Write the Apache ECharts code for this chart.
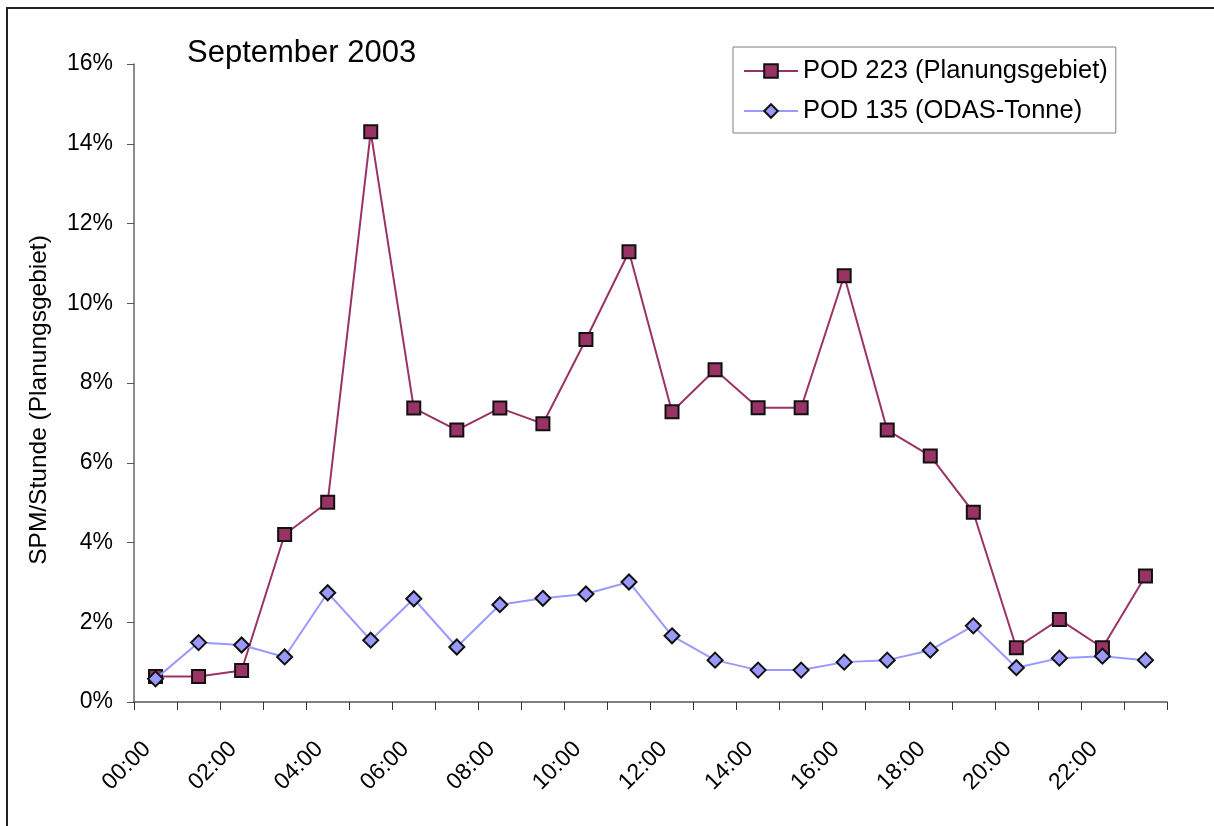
<!DOCTYPE html>
<html>
<head>
<meta charset="utf-8">
<title>POD September 2003</title>
<script src="https://cdn.jsdelivr.net/npm/echarts@6/dist/echarts.min.js"></script>
<style>
  html, body { margin: 0; padding: 0; background: #fff; }
  #chart { width: 1214px; height: 826px; }
</style>
</head>
<body>
<div id="chart"></div>
<script>
// hours of the day, one category per hour
let hours = ['00:00','01:00','02:00','03:00','04:00','05:00','06:00','07:00','08:00','09:00','10:00','11:00',
             '12:00','13:00','14:00','15:00','16:00','17:00','18:00','19:00','20:00','21:00','22:00','23:00']

// SPM per hour in percent
let pod223 = [0.64, 0.64, 0.79, 4.2, 5.01, 14.3, 7.37, 6.82, 7.37, 6.98, 9.09, 11.29,
              7.28, 8.33, 7.38, 7.38, 10.69, 6.82, 6.17, 4.76, 1.36, 2.07, 1.36, 3.16]
let pod135 = [0.58, 1.49, 1.43, 1.13, 2.74, 1.55, 2.59, 1.38, 2.44, 2.6, 2.71, 3.01,
              1.66, 1.05, 0.8, 0.8, 1.0, 1.05, 1.3, 1.91, 0.86, 1.1, 1.15, 1.05]

let seriesNames = ['POD 223 (Planungsgebiet)', 'POD 135 (ODAS-Tonne)']

const font = 'Liberation Sans, Arial, sans-serif'

function chart() {
  var chart = echarts.init(document.getElementById('chart'), null, {renderer: 'canvas'})

  let option = {
    animation: false,
    backgroundColor: '#fff',
    title: {
      text: 'September 2003',
      left: 187,
      top: 38,
      padding: 0,
      textStyle: { fontFamily: font, fontSize: 31, fontWeight: 'normal', color: '#000' }
    },
    legend: {
      orient: 'vertical',
      left: 733,
      top: 47,
      padding: [10, 8, 8, 10],
      itemGap: 12,
      itemWidth: 54,
      itemHeight: 17,
      borderColor: '#808080',
      borderWidth: 1,
      backgroundColor: '#fff',
      textStyle: { fontFamily: font, fontSize: 25.5, color: '#000', lineHeight: 28 },
      data: seriesNames
    },
    graphic: [{
      type: 'rect',
      silent: true,
      shape: { x: 7, y: 8, width: 1400, height: 1000 },
      style: { fill: 'none', stroke: '#222', lineWidth: 2 }
    }],
    grid: { left: 134, right: 47, top: 64, bottom: 124 },
    xAxis: {
      type: 'category',
      data: hours,
      boundaryGap: true,
      axisLine: { lineStyle: { color: '#555', width: 1.5 } },
      axisTick: { show: true, length: 8, interval: 0, lineStyle: { color: '#333' } },
      axisLabel: {
        interval: 1,
        rotate: 45,
        margin: 35,
        padding: [0, 12, 0, 0],
        fontFamily: font,
        fontSize: 23,
        color: '#000'
      },
      splitLine: { show: false }
    },
    yAxis: {
      type: 'value',
      min: 0,
      max: 16,
      interval: 2,
      name: 'SPM/Stunde (Planungsgebiet)',
      nameLocation: 'middle',
      nameGap: 82,
      nameTextStyle: { fontFamily: font, fontSize: 24.5, color: '#000', padding: [0, 34, 0, 0] },
      axisLine: { show: true, lineStyle: { color: '#666', width: 1.5 } },
      axisTick: { show: true, length: 7, lineStyle: { color: '#555' } },
      axisLabel: {
        formatter: '{value}%',
        margin: 21,
        fontFamily: font,
        fontSize: 23,
        color: '#000'
      },
      splitLine: { show: false }
    },
    series: [
      {
        name: seriesNames[0],
        type: 'line',
        data: pod223,
        symbol: 'rect',
        symbolSize: 13,
        lineStyle: { color: '#993366', width: 2 },
        itemStyle: { color: '#993366', borderColor: '#111', borderWidth: 2 },
        z: 3
      },
      {
        name: seriesNames[1],
        type: 'line',
        data: pod135,
        symbol: 'diamond',
        symbolSize: [15, 15],
        lineStyle: { color: '#9999ff', width: 2 },
        itemStyle: { color: '#9999ff', borderColor: '#111', borderWidth: 2 },
        z: 4
      }
    ]
  }
  chart.setOption(option)
}

chart()
</script>
</body>
</html>
